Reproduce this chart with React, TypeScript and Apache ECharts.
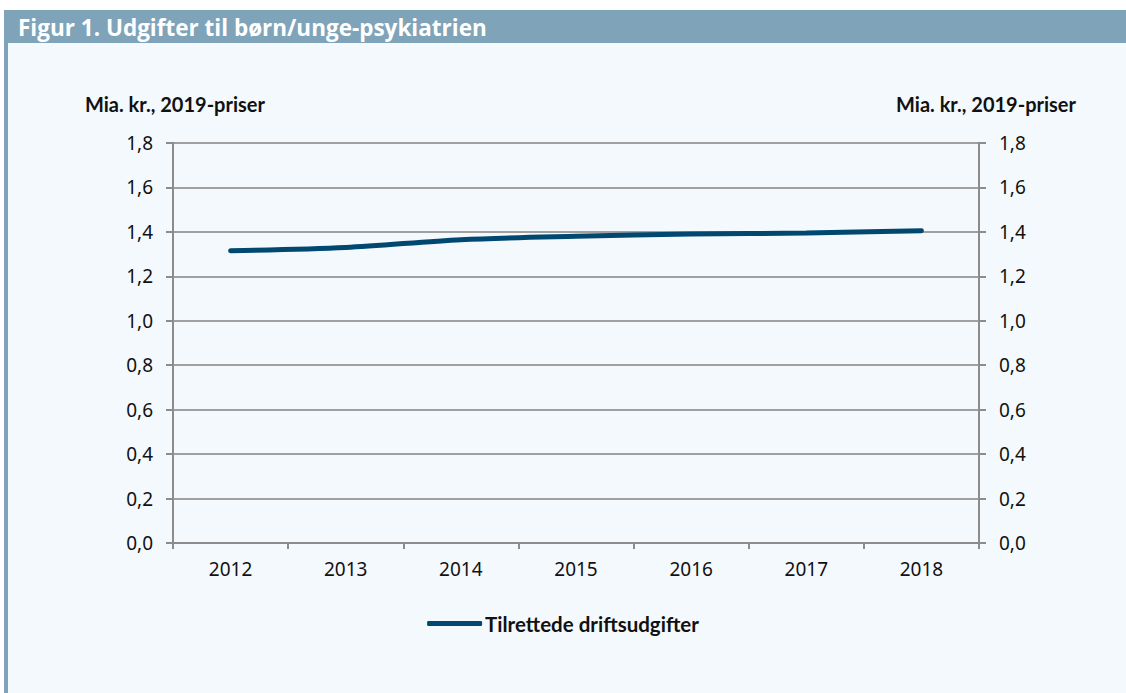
import React, { useEffect, useRef } from "react";
import * as echarts from "echarts";

const years = ["2012", "2013", "2014", "2015", "2016", "2017", "2018"];
const driftsudgifter = [1.315, 1.33, 1.365, 1.38, 1.39, 1.395, 1.405];
const seriesName = "Tilrettede driftsudgifter";
const title = "Figur 1. Udgifter til børn/unge-psykiatrien";
const axisUnit = "Mia. kr., 2019-priser";

export default function App() {
  const ref = useRef<HTMLDivElement>(null);
  useEffect(() => {
    const chart = echarts.init(ref.current!, null, { renderer: "svg" });
    const fmt = (v: number) => v.toFixed(1).replace(".", ",");
    const yAxisCommon = {
      type: "value",
      min: 0,
      max: 1.8,
      interval: 0.2,
      axisLine: { show: true, lineStyle: { color: "#8c8c8c", width: 2 } },
      axisTick: { show: true, length: 7, lineStyle: { color: "#8c8c8c", width: 2 } },
      splitLine: { show: true, lineStyle: { color: "#a0a0a0", width: 2 } },
      axisLabel: {
        formatter: fmt,
        color: "#111",
        fontSize: 19,
        fontFamily: "Noto Sans",
        margin: 20,
      },
    };
    chart.setOption({
      animation: false,
      backgroundColor: "#ffffff",
      graphic: [
        { type: "rect", shape: { x: 4, y: 43, width: 1122, height: 650 }, style: { fill: "#7fa3b8" }, z: -10 },
        { type: "rect", shape: { x: 8, y: 43, width: 1118, height: 650 }, style: { fill: "#f4f9fe" }, z: -9 },
        { type: "rect", shape: { x: 4, y: 10, width: 1122, height: 33 }, style: { fill: "#7fa3b8" }, z: -9 },
        {
          type: "text",
          x: 18,
          y: 27,
          style: {
            text: title,
            fill: "#ffffff",
            font: "bold 22.5px 'Open Sans'",
            textVerticalAlign: "middle",
          },
        },
        {
          type: "text",
          x: 85,
          y: 104,
          style: { text: axisUnit, fill: "#111", font: "bold 20px Lato", textVerticalAlign: "middle" },
        },
        {
          type: "text",
          x: 1076,
          y: 104,
          style: {
            text: axisUnit,
            fill: "#111",
            font: "bold 20px Lato",
            textAlign: "right",
            textVerticalAlign: "middle",
          },
        },
      ],
      grid: { left: 173, right: 147, top: 143, bottom: 150, containLabel: false },
      legend: {
        show: true,
        bottom: 54,
        left: "center",
        icon: "roundRect",
        itemWidth: 55,
        itemHeight: 5,
        itemGap: 20,
        textStyle: { color: "#111", fontSize: 20.5, fontWeight: "bold", fontFamily: "Lato", padding: [0, 0, 0, -2] },
        data: [seriesName],
      },
      xAxis: {
        type: "category",
        data: years,
        boundaryGap: true,
        axisLine: { show: true, lineStyle: { color: "#8c8c8c", width: 2 } },
        axisTick: { show: true, length: 6, alignWithLabel: false, lineStyle: { color: "#8c8c8c", width: 2 } },
        axisLabel: { color: "#111", fontSize: 19, fontFamily: "Noto Sans", margin: 16 },
        splitLine: { show: false },
      },
      yAxis: [
        { ...yAxisCommon, position: "left" },
        { ...yAxisCommon, position: "right", splitLine: { show: false } },
      ],
      series: [
        {
          name: seriesName,
          type: "line",
          data: driftsudgifter,
          yAxisIndex: 0,
          smooth: 0.3,
          showSymbol: false,
          symbol: "none",
          lineStyle: { color: "#004870", width: 5, cap: "round" },
          itemStyle: { color: "#004870" },
        },
      ],
    });
    return () => chart.dispose();
  }, []);
  return (
    <div
      ref={ref}
      style={{ position: "fixed", left: 0, top: 0, width: 1126, height: 693 }}
    />
  );
}
